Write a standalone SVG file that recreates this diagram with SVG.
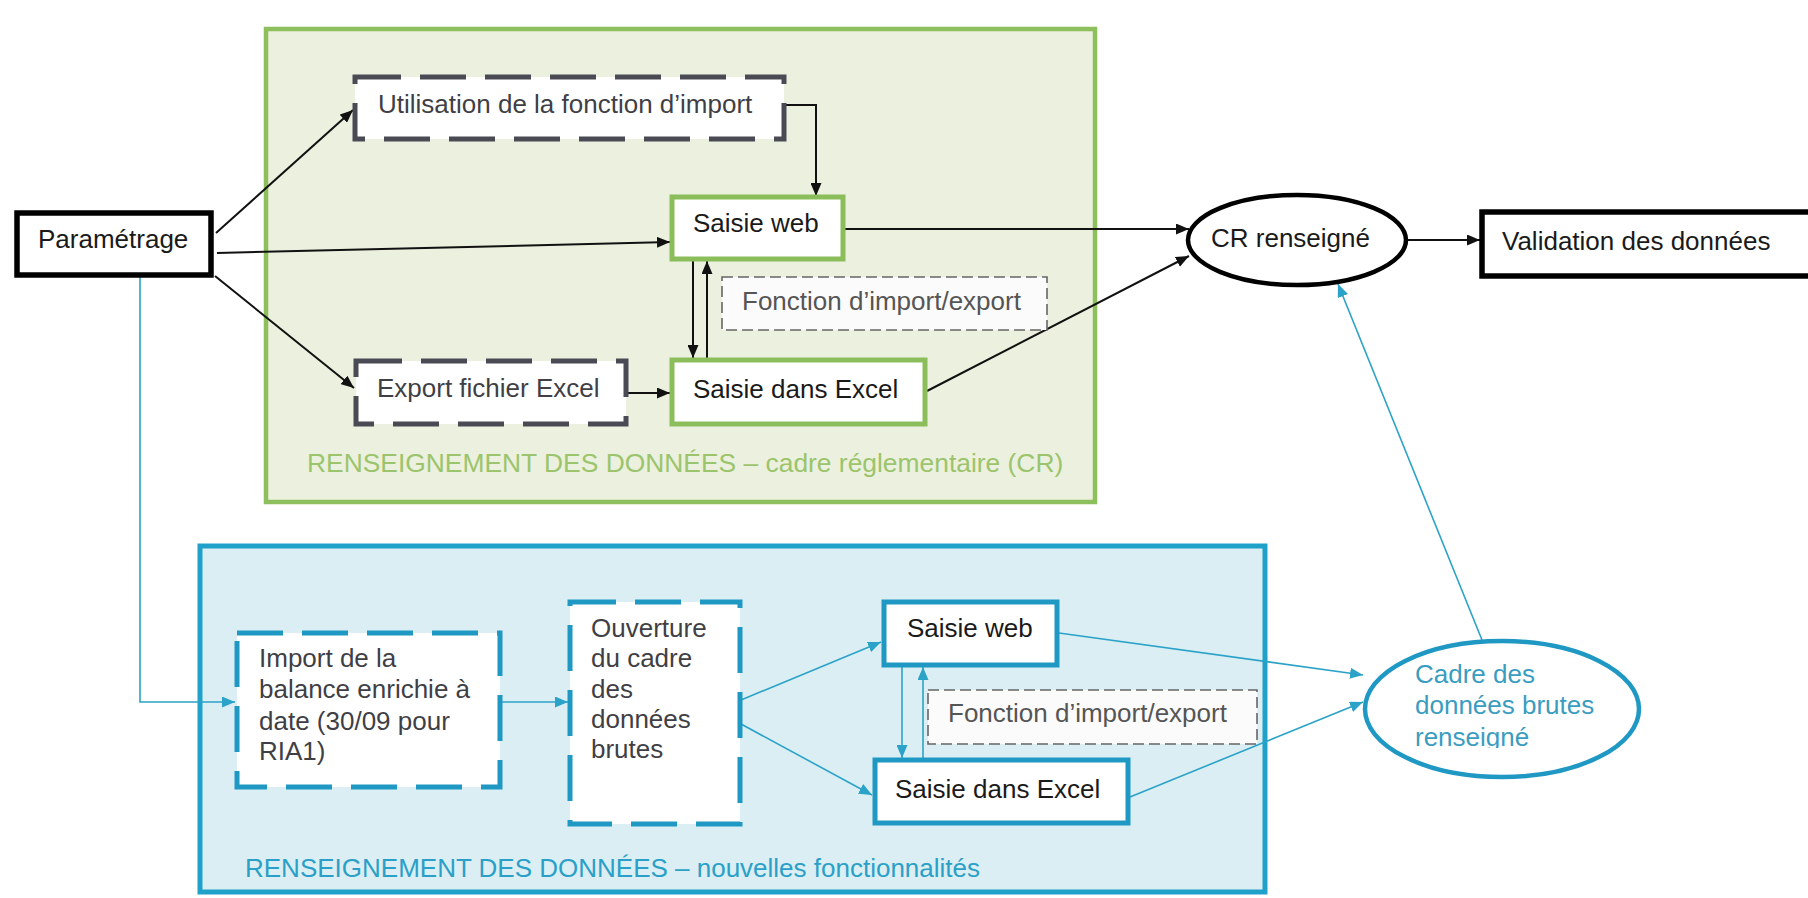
<svg xmlns="http://www.w3.org/2000/svg" width="1808" height="898" viewBox="0 0 1808 898">
<style>
text{font-family:"Liberation Sans",Arial,sans-serif;font-size:26px;fill:#1a1a1a}
.gray{fill:#3f3f45}
.lgray{fill:#555}
.glabel{fill:#9cc46c;font-size:26.4px}
.blabel{fill:#2aa0c8}
.ctext{fill:#3a9dc0}
.solid{fill:#fff;stroke:#000;stroke-width:5.5}
.gnode{fill:#fff;stroke:#8cbd5b;stroke-width:5}
.bnode{fill:#fff;stroke:#1f98c4;stroke-width:5}
.ddash{fill:#fff;stroke:#4a4a55;stroke-width:5;stroke-dasharray:46 19}
.bdash{fill:#fff;stroke:#1f98c4;stroke-width:5;stroke-dasharray:46 19}
.tdash{fill:#fbfbfb;stroke:#666;stroke-width:1.6;stroke-dasharray:11 5}
.k{fill:none;stroke:#111;stroke-width:2}
.b{fill:none;stroke:#2ba3c8;stroke-width:1.6}
</style>
<defs>
<marker id="ak" markerUnits="userSpaceOnUse" markerWidth="13" markerHeight="11" refX="13" refY="5.5" orient="auto">
<path d="M0,0 L13,5.5 L0,11 z" fill="#111"/>
</marker>
<marker id="ab" markerUnits="userSpaceOnUse" markerWidth="13" markerHeight="11" refX="13" refY="5.5" orient="auto">
<path d="M0,0 L13,5.5 L0,11 z" fill="#2ba3c8"/>
</marker>
<clipPath id="cadreclip"><rect x="1365" y="641" width="275" height="107"/></clipPath>
</defs>
<rect width="1808" height="898" fill="#fff"/>

<g id="container-cr">
<rect x="266" y="29" width="829" height="473" fill="#ebf1de" stroke="#8dbf5c" stroke-width="4.5"/>
<text x="307" y="472" class="glabel">RENSEIGNEMENT DES DONNÉES – cadre réglementaire (CR)</text>
</g>
<g id="container-new">
<rect x="200" y="546" width="1065" height="346" fill="#dbeef4" stroke="#1fa1c9" stroke-width="5"/>
<text x="245" y="877" class="blabel">RENSEIGNEMENT DES DONNÉES – nouvelles fonctionnalités</text>
</g>

<g id="connectors">
<path class="k" d="M216 233 L353 110" marker-end="url(#ak)"/>
<path class="k" d="M217 253 L670 242" marker-end="url(#ak)"/>
<path class="k" d="M215 276 L354 388" marker-end="url(#ak)"/>
<path class="k" d="M784 105 H816 V196" marker-end="url(#ak)"/>
<path class="k" d="M693 260 V358" marker-end="url(#ak)"/>
<path class="k" d="M707 359 V261" marker-end="url(#ak)"/>
<path class="k" d="M627 393 H670" marker-end="url(#ak)"/>
<path class="k" d="M845 229 H1189" marker-end="url(#ak)"/>
<path class="k" d="M927 391 L1189 256" marker-end="url(#ak)"/>
<path class="k" d="M1406 240 H1480" marker-end="url(#ak)"/>
<path class="b" d="M140 277 V702 H235" marker-end="url(#ab)"/>
<path class="b" d="M501 702 H568" marker-end="url(#ab)"/>
<path class="b" d="M741 700 L881 642" marker-end="url(#ab)"/>
<path class="b" d="M741 724 L872 795" marker-end="url(#ab)"/>
<path class="b" d="M902 666 V758" marker-end="url(#ab)"/>
<path class="b" d="M923 759 V667" marker-end="url(#ab)"/>
<path class="b" d="M1059 633 L1363 675" marker-end="url(#ab)"/>
<path class="b" d="M1130 797 L1363 702" marker-end="url(#ab)"/>
<path class="b" d="M1482 640 L1338 284" marker-end="url(#ab)"/>
</g>

<g id="parametrage">
<rect x="17" y="213" width="194" height="62" class="solid"/>
<text x="38" y="248">Paramétrage</text>
</g>
<g id="utilisation-import">
<rect x="355" y="77" width="429" height="62" class="ddash"/>
<text x="378" y="113" class="gray">Utilisation de la fonction d’import</text>
</g>
<g id="saisie-web-cr">
<rect x="672" y="197" width="171" height="62" class="gnode"/>
<text x="693" y="232">Saisie web</text>
</g>
<g id="fonction-cr">
<rect x="722" y="277" width="325" height="53" class="tdash"/>
<text x="742" y="310" class="lgray">Fonction d’import/export</text>
</g>
<g id="export-excel">
<rect x="356" y="361" width="270" height="63" class="ddash"/>
<text x="377" y="397" class="gray">Export fichier Excel</text>
</g>
<g id="saisie-excel-cr">
<rect x="672" y="360" width="253" height="64" class="gnode"/>
<text x="693" y="398">Saisie dans Excel</text>
</g>
<g id="cr-renseigne">
<ellipse cx="1297" cy="240" rx="109" ry="45" fill="#fff" stroke="#000" stroke-width="4.5"/>
<text x="1211" y="247">CR renseigné</text>
</g>
<g id="validation">
<rect x="1482" y="212" width="340" height="64" class="solid"/>
<text x="1502" y="250">Validation des données</text>
</g>
<g id="import-balance">
<rect x="237" y="633" width="263" height="154" class="bdash"/>
<text x="259" y="667" class="gray">Import de la</text>
<text x="259" y="698" class="gray">balance enrichie à</text>
<text x="259" y="730" class="gray">date (30/09 pour</text>
<text x="259" y="760" class="gray">RIA1)</text>
</g>
<g id="ouverture">
<rect x="570" y="602" width="170" height="222" class="bdash"/>
<text x="591" y="637" class="gray">Ouverture</text>
<text x="591" y="667" class="gray">du cadre</text>
<text x="591" y="698" class="gray">des</text>
<text x="591" y="728" class="gray">données</text>
<text x="591" y="758" class="gray">brutes</text>
</g>
<g id="saisie-web-new">
<rect x="884" y="602" width="173" height="63" class="bnode"/>
<text x="907" y="637">Saisie web</text>
</g>
<g id="fonction-new">
<rect x="928" y="690" width="329" height="54" class="tdash"/>
<text x="948" y="722" class="lgray">Fonction d’import/export</text>
</g>
<g id="saisie-excel-new">
<rect x="875" y="760" width="253" height="63" class="bnode"/>
<text x="895" y="798">Saisie dans Excel</text>
</g>
<g id="cadre-renseigne">
<ellipse cx="1502" cy="709" rx="137" ry="68" fill="#fff" stroke="#1f98c4" stroke-width="4.5"/>
<g clip-path="url(#cadreclip)">
<text x="1415" y="683" class="ctext">Cadre des</text>
<text x="1415" y="714" class="ctext">données brutes</text>
<text x="1415" y="746" class="ctext">renseigné</text>
</g>
</g>
</svg>
